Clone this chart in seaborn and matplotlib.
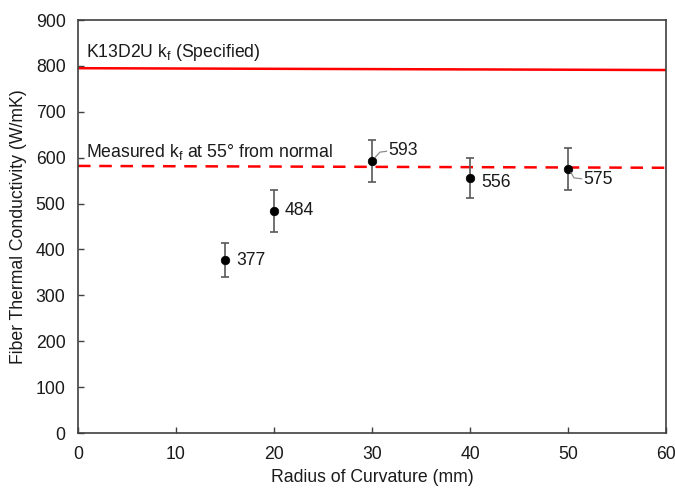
import pandas as pd
import matplotlib
matplotlib.use('Agg')
import matplotlib.pyplot as plt
import seaborn as sns

# Data
radius = [15, 20, 30, 40, 50]
kf = [377, 484, 593, 556, 575]
kf_err = [36, 45, 46, 43, 45]
point_labels = ['377', '484', '593', '556', '575']

spec_x = [0, 60]
spec_kf = [795, 791]
meas_x = [0, 60]
meas_kf = [582, 578]

x_ticks = [0, 10, 20, 30, 40, 50, 60]
y_ticks = [0, 100, 200, 300, 400, 500, 600, 700, 800, 900]

sns.set_theme(style="ticks")
plt.rcParams['font.family'] = ['Liberation Sans', 'DejaVu Sans']
plt.rcParams['mathtext.fontset'] = 'custom'
plt.rcParams['mathtext.rm'] = 'Liberation Sans'
plt.rcParams['mathtext.it'] = 'Liberation Sans'

FS = 12.7
TXT = '#1a1a1a'

fig = plt.figure(figsize=(6.75, 4.88), dpi=100)
ax = fig.add_axes([0.1156, 0.1127, 0.8711, 0.8463])

df = pd.DataFrame({'radius': radius, 'kf': kf, 'err': kf_err})
lines = pd.DataFrame({'x': spec_x + meas_x, 'y': spec_kf + meas_kf,
                      'kind': ['spec'] * 2 + ['meas'] * 2})

sns.lineplot(data=lines[lines['kind'] == 'spec'], x='x', y='y', color='#ff0000',
             linewidth=1.8, ax=ax)
sns.lineplot(data=lines[lines['kind'] == 'meas'], x='x', y='y', color='#ff0000',
             linewidth=1.8, ax=ax, linestyle=(0, (5, 3.5)))

ax.errorbar(df['radius'], df['kf'], yerr=df['err'], fmt='none', ecolor='#595959',
            elinewidth=1.2, capsize=3, capthick=1.2, zorder=3)
sns.scatterplot(data=df, x='radius', y='kf', color='black', s=38, edgecolor='black',
                zorder=4, ax=ax)

# Point labels
offsets = {0: (1.1, 0), 1: (1.1, 0), 2: (1.7, 22), 3: (1.1, -10), 4: (1.6, -22)}
for i, (xv, yv, lab) in enumerate(zip(radius, kf, point_labels)):
    dx, dy = offsets[i]
    ax.text(xv + dx, yv + dy, lab, fontsize=FS, va='center', ha='left', color=TXT)
# Leader lines
ax.plot([30.3, 30.8, 31.5], [600, 612, 614], color='#8c8c8c', linewidth=0.9, zorder=5)
ax.plot([50.3, 50.6, 51.4], [568, 556, 554], color='#8c8c8c', linewidth=0.9, zorder=5)

ax.text(0.8, 830, 'K13D2U k$_\\mathregular{f}$ (Specified)', fontsize=FS, va='center',
        color=TXT)
ax.text(0.8, 613, 'Measured k$_\\mathregular{f}$ at 55° from normal', fontsize=FS,
        va='center', color=TXT)

ax.set_xlim(0, 60)
ax.set_ylim(0, 900)
ax.set_xticks(x_ticks)
ax.set_yticks(y_ticks)
ax.tick_params(direction='in', length=4, width=1, color='#404040', labelsize=FS,
               labelcolor=TXT)
ax.tick_params(axis='x', pad=9)
ax.tick_params(axis='y', pad=9)
for s in ax.spines.values():
    s.set_color('#404040')
    s.set_linewidth(1.2)
ax.set_xlabel('Radius of Curvature (mm)', fontsize=FS, color=TXT, labelpad=5)
ax.set_ylabel('Fiber Thermal Conductivity (W/mK)', fontsize=FS, color=TXT, labelpad=6)

fig.savefig('out.png', dpi=100)
